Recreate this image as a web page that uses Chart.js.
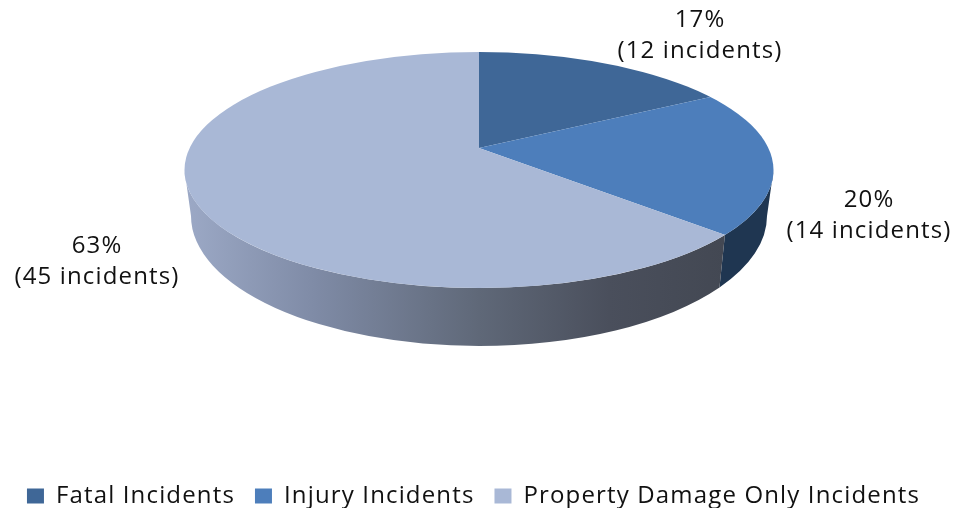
<!DOCTYPE html>
<html>
<head>
<meta charset="utf-8">
<title>Incidents by severity</title>
<script src="https://cdn.jsdelivr.net/npm/chart.js@4"></script>
<style>
  html, body { margin: 0; padding: 0; background: #fff; }
  #wrap { width: 961px; height: 508px; }
</style>
</head>
<body>
<div id="wrap"><canvas id="pieChart"></canvas></div>
<script>
const categories = ["Fatal Incidents", "Injury Incidents", "Property Damage Only Incidents"];
const incidents = [12, 14, 45];
const percents = ["17%", "20%", "63%"];
const sliceColors = ["#3f6797", "#4d7ebb", "#a9b8d6"];

// picture geometry of the tilted disc
const apex = { x: 479, y: 148 };
const tilt = 0.395;
const topRim = { x: 479, y: 170, rx: 294.5, ry: 118 };
const bottomRim = { x: 479, y: 216, rx: 288, ry: 130 };
const labelSpots = [
  { x: 700, y: 20 },
  { x: 869, y: 200 },
  { x: 97, y: 246 },
];
const textSpacing = "1.15px";

// angle on the rim ellipse where a slice edge comes out
function rimAngle(angle) {
  const dx = Math.cos(angle);
  const dy = tilt * Math.sin(angle);
  const ox = apex.x - topRim.x;
  const oy = apex.y - topRim.y;
  const a = (dx * dx) / (topRim.rx * topRim.rx) + (dy * dy) / (topRim.ry * topRim.ry);
  const b = 2 * ((ox * dx) / (topRim.rx * topRim.rx) + (oy * dy) / (topRim.ry * topRim.ry));
  const c = (ox * ox) / (topRim.rx * topRim.rx) + (oy * oy) / (topRim.ry * topRim.ry) - 1;
  const s = (-b + Math.sqrt(b * b - 4 * a * c)) / (2 * a);
  let t = Math.atan2((oy + s * dy) / topRim.ry, (ox + s * dx) / topRim.rx);
  if (t < -Math.PI / 2) t += Math.PI * 2;
  return t;
}

function wallFill(ctx, index) {
  if (index === 1) return "#1f3651";
  const g = ctx.createLinearGradient(185, 0, 774, 0);
  g.addColorStop(0, "#9ca9c6");
  g.addColorStop(0.22, "#7f8ba6");
  g.addColorStop(0.5, "#5f6878");
  g.addColorStop(0.72, "#4a4f5c");
  g.addColorStop(1, "#40454f");
  return g;
}

const tiltedPie = {
  id: "tiltedPie",
  // wider text than the font gives; has to be set before the legend measures
  beforeUpdate(chart) {
    chart.ctx.letterSpacing = textSpacing;
  },
  beforeDraw(chart) {
    chart.ctx.letterSpacing = textSpacing;
  },
  beforeDatasetsDraw(chart) {
    const ctx = chart.ctx;
    const arcs = chart.getDatasetMeta(0).data;

    // side wall
    arcs.forEach((arc, i) => {
      const from = rimAngle(arc.startAngle);
      let to = rimAngle(arc.endAngle);
      if (to < from) to += Math.PI * 2;
      const t0 = Math.max(0, from);
      const t1 = Math.min(Math.PI, to);
      if (t1 <= t0) return;
      ctx.beginPath();
      ctx.ellipse(topRim.x, topRim.y, topRim.rx, topRim.ry, 0, t0, t1);
      ctx.ellipse(bottomRim.x, bottomRim.y, bottomRim.rx, bottomRim.ry, 0, t1, t0, true);
      ctx.closePath();
      ctx.fillStyle = wallFill(ctx, i);
      ctx.fill();
    });

    // squash the slices and cut them to the rim
    ctx.save();
    ctx.beginPath();
    ctx.ellipse(topRim.x, topRim.y, topRim.rx, topRim.ry, 0, 0, Math.PI * 2);
    ctx.clip();
    ctx.translate(apex.x, apex.y);
    ctx.scale(1, tilt);
    ctx.translate(-arcs[0].x, -arcs[0].y);
  },
  afterDatasetsDraw(chart) {
    const ctx = chart.ctx;
    ctx.restore();

    ctx.save();
    ctx.fillStyle = "#111";
    ctx.font = '24px "Open Sans"';
    ctx.textAlign = "center";
    ctx.textBaseline = "middle";
    labelSpots.forEach((spot, i) => {
      ctx.fillText(percents[i], spot.x, spot.y);
      ctx.fillText("(" + incidents[i] + " incidents)", spot.x, spot.y + 31);
    });
    ctx.restore();
  },
};

const ctx = document.getElementById("pieChart").getContext("2d");
new Chart(ctx, {
  type: "pie",
  data: {
    labels: categories,
    datasets: [
      {
        data: incidents,
        backgroundColor: sliceColors,
        borderWidth: 0,
        radius: 400,
        clip: false,
      },
    ],
  },
  options: {
    responsive: true,
    maintainAspectRatio: false,
    animation: false,
    events: [],
    layout: { padding: { left: -14, bottom: -10 } },
    plugins: {
      tooltip: { enabled: false },
      legend: {
        position: "bottom",
        labels: {
          boxWidth: 17,
          boxHeight: 15,
          padding: 20,
          color: "#111",
          font: { family: "Open Sans", size: 24 },
        },
      },
    },
  },
  plugins: [tiltedPie],
});
</script>
</body>
</html>
